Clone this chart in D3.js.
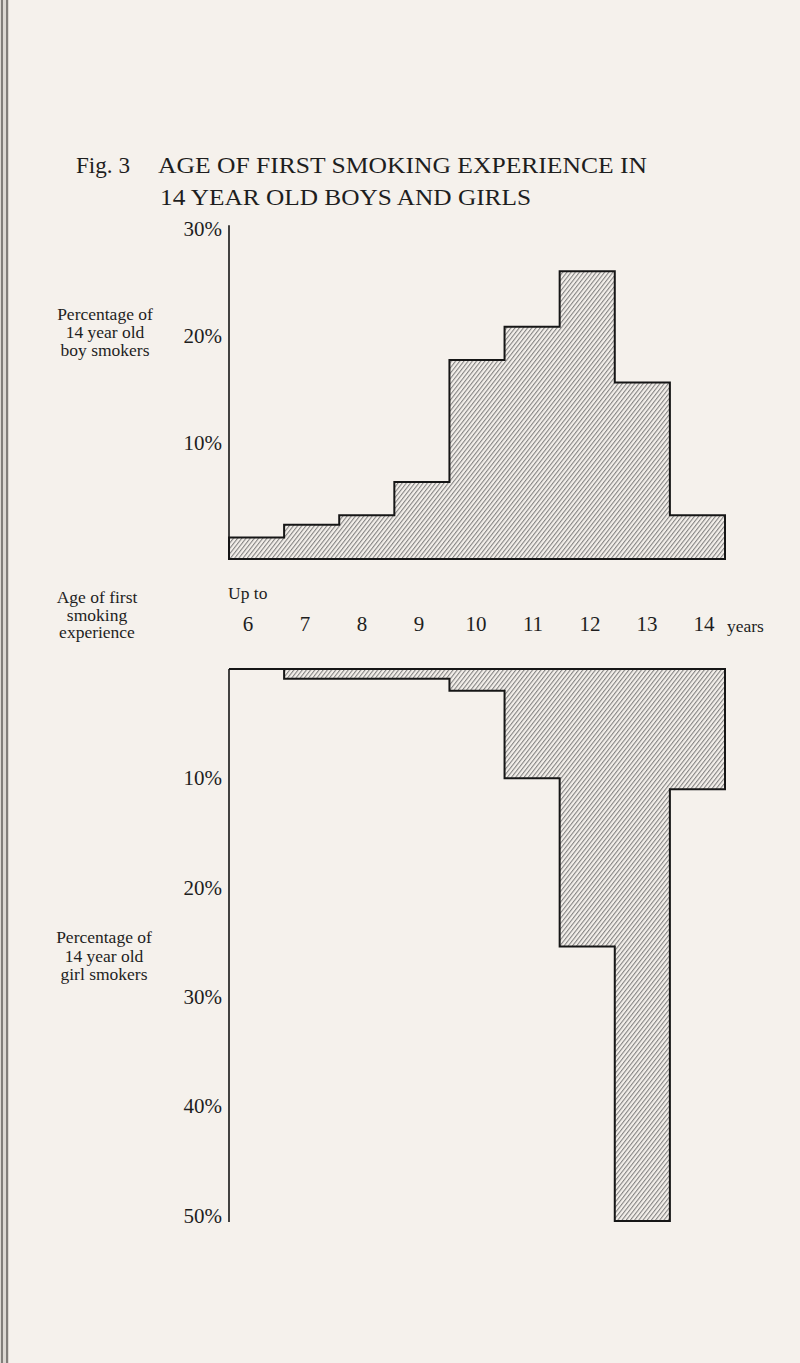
<!DOCTYPE html>
<html>
<head>
<meta charset="utf-8">
<script src="https://cdn.jsdelivr.net/npm/d3@7"></script>
<style>
  body { margin: 0; background: #f5f1ec; }
  svg { display: block; }
  text { font-family: "Liberation Serif", "DejaVu Serif", serif; fill: #1e1e1e; }
</style>
</head>
<body>
<div id="chart"></div>
<script>
const w = 800;
const h = 1363;

// data
const ages = ["6", "7", "8", "9", "10", "11", "12", "13", "14"];
const boys = [2.0, 3.2, 4.1, 7.2, 18.6, 21.7, 26.9, 16.5, 4.1];
const girls = [0, 0.9, 0.9, 0.9, 2.0, 10.0, 25.4, 50.5, 11.0];
const boyTicks = [10, 20, 30];
const girlTicks = [10, 20, 30, 40, 50];

const svg = d3.select("#chart")
  .append("svg")
  .attr("width", w)
  .attr("height", h);

svg.append("rect").attr("width", w).attr("height", h).attr("fill", "#f5f1ec");

// page edge at the binding
svg.append("rect").attr("x", 0).attr("y", 0).attr("width", 9).attr("height", h).attr("fill", "#dcd8d2");
[2, 7].forEach(x => svg.append("line")
  .attr("x1", x).attr("x2", x).attr("y1", 0).attr("y2", h)
  .attr("stroke", "#6b6864").attr("stroke-width", 1.6));

// hatching
const pat = svg.append("defs").append("pattern")
  .attr("id", "hatch")
  .attr("patternUnits", "userSpaceOnUse")
  .attr("width", 3.3)
  .attr("height", 10)
  .attr("patternTransform", "rotate(38)");
pat.append("rect").attr("width", 3.3).attr("height", 10).attr("fill", "#f3efea");
pat.append("line").attr("x1", 0.6).attr("x2", 0.6).attr("y1", 0).attr("y2", 10)
  .attr("stroke", "#666").attr("stroke-width", 0.85);

// title
const title = svg.append("g").style("font-size", "24px");
title.append("text").attr("x", 76).attr("y", 173).attr("textLength", 54).attr("lengthAdjust", "spacingAndGlyphs").text("Fig. 3");
title.append("text").attr("x", 158).attr("y", 173).attr("textLength", 489).attr("lengthAdjust", "spacingAndGlyphs").text("AGE OF FIRST SMOKING EXPERIENCE IN");
title.append("text").attr("x", 160).attr("y", 205).attr("textLength", 371).attr("lengthAdjust", "spacingAndGlyphs").text("14 YEAR OLD BOYS AND GIRLS");

// scales
const x = d3.scaleBand().domain(ages).range([229, 725]).padding(0);
const xLab = d3.scalePoint().domain(ages).range([248, 704]);
const yBoys = d3.scaleLinear().domain([0, 30]).range([559, 238]);
const yGirls = d3.scaleLinear().domain([0, 50]).range([669, 1215.5]);

// step outline for boys (upwards)
function boysPath() {
  const p = d3.path();
  p.moveTo(x(ages[0]), yBoys(0));
  ages.forEach((a, i) => {
    p.lineTo(x(a), yBoys(boys[i]));
    p.lineTo(x(a) + x.bandwidth(), yBoys(boys[i]));
  });
  p.lineTo(x(ages[ages.length - 1]) + x.bandwidth(), yBoys(0));
  p.closePath();
  return p.toString();
}

// step outline for girls (downwards from the top line)
function girlsPath() {
  const p = d3.path();
  const last = ages.length - 1;
  p.moveTo(x(ages[0]), yGirls(0));
  p.lineTo(x(ages[last]) + x.bandwidth(), yGirls(0));
  for (let i = last; i >= 0; i--) {
    p.lineTo(x(ages[i]) + x.bandwidth(), yGirls(girls[i]));
    p.lineTo(x(ages[i]), yGirls(girls[i]));
  }
  p.closePath();
  return p.toString();
}

svg.append("path").attr("d", boysPath())
  .attr("fill", "url(#hatch)").attr("stroke", "#161616").attr("stroke-width", 2).attr("stroke-linejoin", "miter");
svg.append("path").attr("d", girlsPath())
  .attr("fill", "url(#hatch)").attr("stroke", "#161616").attr("stroke-width", 2).attr("stroke-linejoin", "miter");

// vertical axes
svg.append("line").attr("x1", 229).attr("x2", 229).attr("y1", yBoys(31.2)).attr("y2", yBoys(0))
  .attr("stroke", "#161616").attr("stroke-width", 1.6);
svg.append("line").attr("x1", 229).attr("x2", 229).attr("y1", yGirls(0)).attr("y2", yGirls(50.6))
  .attr("stroke", "#161616").attr("stroke-width", 1.6);

// tick labels
svg.append("g").selectAll("text").data(boyTicks).join("text")
  .attr("x", 222).attr("y", d => yBoys(d) - 2)
  .attr("text-anchor", "end").style("font-size", "21px")
  .text(d => d + "%");
svg.append("g").selectAll("text").data(girlTicks).join("text")
  .attr("x", 222).attr("y", d => yGirls(d) + 7)
  .attr("text-anchor", "end").style("font-size", "21px")
  .text(d => d + "%");

// age labels
svg.append("g").selectAll("text").data(ages).join("text")
  .attr("x", d => xLab(d)).attr("y", 631)
  .attr("text-anchor", "middle").style("font-size", "21px")
  .text(d => d);
svg.append("text").attr("x", 228).attr("y", 599).style("font-size", "17.5px").text("Up to");
svg.append("text").attr("x", 727).attr("y", 632).style("font-size", "17.5px").text("years");

// side labels
function block(lines, cx, y0, step) {
  svg.append("g").selectAll("text").data(lines).join("text")
    .attr("x", cx).attr("y", (d, i) => y0 + i * step)
    .attr("text-anchor", "middle").style("font-size", "17.5px")
    .text(d => d);
}
block(["Percentage of", "14 year old", "boy smokers"], 105, 320, 18);
block(["Age of first", "smoking", "experience"], 97, 603, 17.5);
block(["Percentage of", "14 year old", "girl smokers"], 104, 943, 18.5);
</script>
</body>
</html>
